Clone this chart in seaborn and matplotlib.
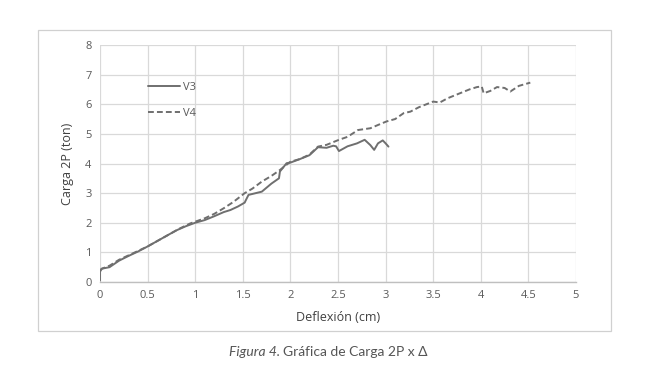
import matplotlib
matplotlib.use("Agg")
import matplotlib.pyplot as plt
import seaborn as sns
import pandas as pd
from matplotlib.patches import Rectangle

# V3 (solid) deflection (cm) vs load (ton)
v3_x = [0.0, 0.0, 0.02, 0.1, 0.2, 0.3, 0.4, 0.5, 0.6, 0.7, 0.8, 0.9, 1.0, 1.1, 1.2, 1.3,
        1.37, 1.45, 1.52, 1.53, 1.56, 1.70, 1.80, 1.88, 1.89, 1.96, 2.0, 2.1, 2.2,
        2.29, 2.38, 2.45, 2.48, 2.51, 2.6, 2.7, 2.78, 2.84, 2.88, 2.92, 2.97, 3.0, 3.03]
v3_y = [0.05, 0.35, 0.45, 0.5, 0.72, 0.88, 1.03, 1.2, 1.38, 1.56, 1.74, 1.88, 2.0, 2.09,
        2.22, 2.36, 2.43, 2.55, 2.68, 2.75, 2.94, 3.05, 3.32, 3.50, 3.73, 4.01, 4.03, 4.15,
        4.28, 4.55, 4.53, 4.6, 4.58, 4.42, 4.58, 4.68, 4.8, 4.62, 4.46, 4.68, 4.78, 4.68, 4.57]

# V4 (dashed)
v4_x = [0.0, 0.02, 0.1, 0.2, 0.3, 0.4, 0.5, 0.6, 0.7, 0.84, 0.95, 1.1, 1.2, 1.3, 1.4,
        1.52, 1.6, 1.70, 1.80, 1.89, 2.0, 2.1, 2.2, 2.29, 2.38, 2.51, 2.6, 2.71, 2.84,
        2.92, 3.01, 3.1, 3.19, 3.26, 3.35, 3.5, 3.57, 3.65, 3.78, 3.88, 3.96, 4.01,
        4.03, 4.1, 4.17, 4.25, 4.31, 4.4, 4.52]
v4_y = [0.4, 0.45, 0.55, 0.75, 0.9, 1.05, 1.2, 1.38, 1.56, 1.81, 1.98, 2.15, 2.3, 2.49,
        2.7, 3.0, 3.15, 3.39, 3.58, 3.78, 4.06, 4.15, 4.3, 4.57, 4.63, 4.8, 4.9, 5.13,
        5.19, 5.3, 5.42, 5.5, 5.7, 5.75, 5.9, 6.09, 6.06, 6.2, 6.37, 6.5, 6.58, 6.6,
        6.37, 6.45, 6.58, 6.55, 6.43, 6.62, 6.73]

x_ticks = [0, 0.5, 1, 1.5, 2, 2.5, 3, 3.5, 4, 4.5, 5]
x_tick_labels = ["0", "0.5", "1", "1.5", "2", "2.5", "3", "3.5", "4", "4.5", "5"]
y_ticks = [0, 1, 2, 3, 4, 5, 6, 7, 8]

df = pd.concat([
    pd.DataFrame({"x": v3_x, "y": v3_y, "serie": "V3", "idx": range(len(v3_x))}),
    pd.DataFrame({"x": v4_x, "y": v4_y, "serie": "V4", "idx": range(len(v4_x))}),
])

sns.set_theme(style="white")
plt.rcParams["font.family"] = ["Open Sans", "DejaVu Sans"]

fig = plt.figure(figsize=(6.5, 3.85), dpi=100)
ax = fig.add_axes([100/650, 1 - 282/385, 476/650, 237/385])

sns.lineplot(data=df, x="x", y="y", hue="serie", style="serie",
             palette={"V3": "#6f6f6f", "V4": "#6f6f6f"},
             dashes={"V3": "", "V4": (3, 1.6)},
             sort=False, estimator=None, units="serie", linewidth=1.4, ax=ax)

ax.set_xlim(0, 5)
ax.set_ylim(0, 8)
ax.set_xticks(x_ticks)
ax.set_xticklabels(x_tick_labels)
ax.set_yticks(y_ticks)
ax.grid(True, color="#d9d9d9", linewidth=0.9)
ax.set_axisbelow(True)
for s in ["top", "right", "left"]:
    ax.spines[s].set_visible(False)
ax.spines["bottom"].set_color("#bfbfbf")
ax.spines["bottom"].set_linewidth(1.0)
ax.tick_params(axis="both", length=0, labelsize=8, labelcolor="#595959", pad=6)
ax.set_xlabel("Deflexión (cm)", fontsize=9, color="#404040", labelpad=7)
ax.set_ylabel("Carga 2P (ton)", fontsize=9, color="#404040", labelpad=8)

leg = ax.legend(loc="upper left", bbox_to_anchor=(0.08, 0.888), frameon=False,
                fontsize=8, handlelength=2.9, labelspacing=1.4, handletextpad=0.25)
for t in leg.get_texts():
    t.set_color("#595959")

# outer chart frame
fig.patches.append(Rectangle((38/650, 1 - 331/385), 573/650, 301/385,
                             transform=fig.transFigure, fill=False,
                             edgecolor="#d0d0d0", linewidth=0.9))

# caption
t1 = fig.text(229/650, 1 - 352/385, "Figura 4.", fontsize=10, style="italic",
              color="#555555", va="center", ha="left", family=["Lato", "DejaVu Sans"])
fig.canvas.draw()
bb = t1.get_window_extent()
fig.text((bb.x1 + 3) / fig.bbox.width, 1 - 352/385, "Gráfica de Carga 2P x Δ",
         fontsize=10, color="#555555", va="center", ha="left",
         family=["Lato", "DejaVu Sans"])

fig.savefig("out.png", dpi=100)
